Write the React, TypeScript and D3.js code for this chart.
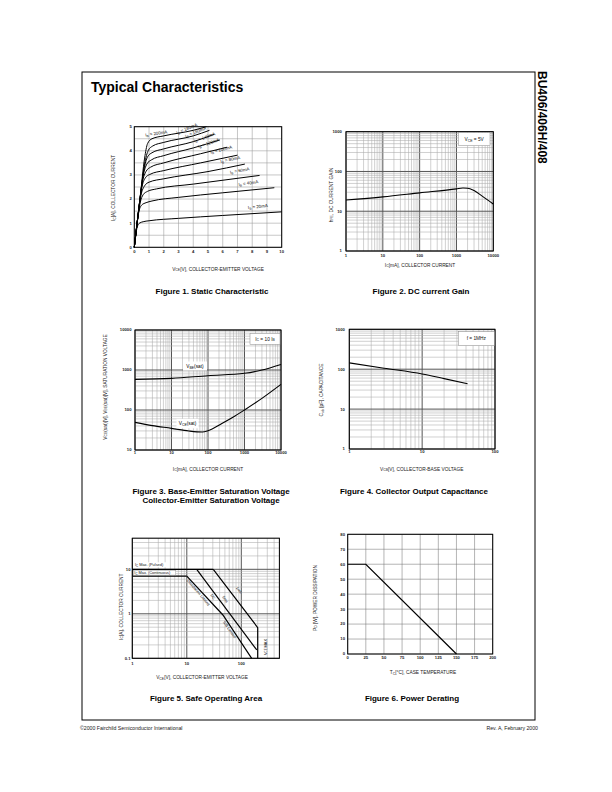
import React from 'react';
import * as d3 from 'd3';

type Pt = [number, number];
const FONT = '"Liberation Sans", Arial, Helvetica, sans-serif';

// ===== Figure 1: Static characteristic (VCE [V], IC [A]) =====
const f1XTicks = [0, 1, 2, 3, 4, 5, 6, 7, 8, 9, 10];
const f1YTicks = [0, 1, 2, 3, 4, 5];
const f1YGrid = [0, 0.5, 1, 1.5, 2, 2.5, 3, 3.5, 4, 4.5, 5];
const ib20: Pt[] = [[0, 0], [0.1, 0.5], [0.2, 0.85], [0.35, 1.0], [0.6, 1.06], [1, 1.1], [3, 1.2], [6, 1.32], [10, 1.47]];
const ib40: Pt[] = [[0, 0], [0.15, 0.78], [0.3, 1.45], [0.5, 1.75], [0.8, 1.85], [1.2, 1.92], [3, 2.07], [6, 2.26], [9.5, 2.47]];
const ib60: Pt[] = [[0, 0], [0.2, 1.05], [0.4, 1.85], [0.6, 2.18], [0.9, 2.32], [1.5, 2.42], [4, 2.62], [8.5, 2.98]];
const ib80: Pt[] = [[0, 0], [0.2, 1.05], [0.45, 2.15], [0.7, 2.55], [1, 2.7], [2, 2.84], [5, 3.14], [7.5, 3.45]];
const ib100: Pt[] = [[0, 0], [0.25, 1.3], [0.5, 2.45], [0.75, 2.88], [1.05, 3.02], [2, 3.18], [4.5, 3.5], [7, 3.82]];
const ib120: Pt[] = [[0, 0], [0.3, 1.56], [0.55, 2.7], [0.8, 3.15], [1.1, 3.32], [2, 3.5], [4.5, 3.88], [6.3, 4.15]];
const ib140: Pt[] = [[0, 0], [0.3, 1.56], [0.6, 2.95], [0.85, 3.45], [1.15, 3.62], [2, 3.8], [4, 4.12], [5.8, 4.45]];
const ib160: Pt[] = [[0, 0], [0.35, 1.82], [0.65, 3.2], [0.9, 3.75], [1.2, 3.92], [2, 4.08], [4, 4.38], [5.4, 4.68]];
const ib180: Pt[] = [[0, 0], [0.4, 2.08], [0.7, 3.45], [0.95, 4.02], [1.25, 4.2], [2, 4.35], [4, 4.62], [5.1, 4.85]];
const ib200: Pt[] = [[0, 0], [0.4, 2.1], [0.7, 3.7], [0.9, 4.3], [1.2, 4.5], [2, 4.62], [4, 4.85], [4.9, 5.0]];
const f1Curves = [ib20, ib40, ib60, ib80, ib100, ib120, ib140, ib160, ib180, ib200];
const f1Names = ['20mA', '40mA', '60mA', '80mA', '100mA', '120mA', '140mA', '160mA', '180mA', '200mA'];
const f1LabelAt: [number, number, number][] = [
  [8.39, 1.63, -6], [7.75, 2.6, -8], [7.17, 3.12, -10], [6.53, 3.58, -12], [5.92, 3.99, -14],
  [5.07, 4.26, -18], [4.8, 4.5, -20], [4.19, 4.72, -22], [3.6, 4.86, -22], [1.5, 4.66, -8],
];

// ===== Figure 2: DC current gain =====
const f2XTicks = [1, 10, 100, 1000, 10000];
const f2YTicks = [1, 10, 100, 1000];
const hfe: Pt[] = [[1, 19.2], [10, 23], [100, 29], [1000, 36.5], [1500, 38.3], [2000, 38], [3000, 33], [5000, 24], [10000, 15.2]];

// ===== Figure 3: Saturation voltages =====
const f3XTicks = [1, 10, 100, 1000, 10000];
const f3YTicks = [10, 100, 1000, 10000];
const vbeSat: Pt[] = [[1, 584], [10, 617], [100, 721], [1000, 826], [3000, 1000], [10000, 1380]];
const vceSat: Pt[] = [[1, 49], [3, 40.6], [10, 34.8], [30, 29.9], [70, 28.2], [100, 30.4], [240, 46], [550, 70.8], [1000, 100], [3000, 195], [10000, 437]];

// ===== Figure 4: Collector output capacitance =====
const f4XTicks = [1, 10, 100];
const f4YTicks = [1, 10, 100, 1000];
const cob: Pt[] = [[1, 144], [3, 106], [10, 76], [20, 58], [42, 43]];

// ===== Figure 5: Safe operating area =====
const f5XTicks = [1, 10, 100];
const f5YTicks = [0.1, 1, 10];
const f5XLabels = ['1', '10', '100'];
const f5YLabels = ['0.1', '1', '10'];
const icPulsed: Pt[] = [[1, 10], [30.6, 10]];
const icCont: Pt[] = [[1, 7], [10, 7]];
const soaDC: Pt[] = [[10, 7], [46, 0.94], [155, 0.1]];
const soa5ms: Pt[] = [[15.2, 10], [192, 0.154]];
const soa1ms: Pt[] = [[30.6, 10], [200, 0.49], [200, 0.1]];

// ===== Figure 6: Power derating =====
const f6XTicks = [0, 25, 50, 75, 100, 125, 150, 175, 200];
const f6YTicks = [0, 10, 20, 30, 40, 50, 60, 70, 80];
const pd: Pt[] = [[0, 60], [25, 60], [150, 0]];

// ---------- helpers ----------
type GV = { v: number; major: boolean };
function logVals(min: number, max: number): GV[] {
  const out: GV[] = [];
  const d0 = Math.floor(Math.log10(min) + 1e-9);
  const d1 = Math.ceil(Math.log10(max) - 1e-9);
  for (let d = d0; d <= d1; d++)
    for (let k = 1; k < 10; k++) {
      const v = k * Math.pow(10, d);
      if (v >= min * 0.9999 && v <= max * 1.0001) out.push({ v, major: k === 1 });
    }
  return out;
}
const linVals = (arr: number[]): GV[] => arr.map((v) => ({ v, major: false }));

function Grid({ sx, sy, xs, ys, minor = '#aaa', major = '#555' }: any) {
  const [x0, x1] = sx.range();
  const [y0, y1] = sy.range();
  return (
    <g>
      {xs.map((t: GV, i: number) => (
        <line key={'gx' + i} x1={sx(t.v)} x2={sx(t.v)} y1={y0} y2={y1} stroke={t.major ? major : minor} strokeWidth={t.major ? 1 : 0.55} />
      ))}
      {ys.map((t: GV, i: number) => (
        <line key={'gy' + i} x1={x0} x2={x1} y1={sy(t.v)} y2={sy(t.v)} stroke={t.major ? major : minor} strokeWidth={t.major ? 1 : 0.55} />
      ))}
      <rect x={x0} y={Math.min(y0, y1)} width={x1 - x0} height={Math.abs(y1 - y0)} fill="none" stroke="#000" strokeWidth={1} />
    </g>
  );
}

function Ticks({ sx, sy, xt, yt, xl, yl, xBase, yEnd }: any) {
  return (
    <g fontSize={4.2} fontWeight="bold" fill="#222">
      {xt.map((t: number, i: number) => (
        <text key={'tx' + i} x={sx(t)} y={xBase} textAnchor="middle">{xl ? xl[i] : String(t)}</text>
      ))}
      {yt.map((t: number, i: number) => (
        <text key={'ty' + i} x={yEnd} y={sy(t) + 1.4} textAnchor="end">{yl ? yl[i] : String(t)}</text>
      ))}
    </g>
  );
}

const Sub = ({ children }: any) => (
  <tspan fontSize="0.72em" dy={0.9}>{children}</tspan>
);
const Up = ({ children }: any) => <tspan dy={-0.9}>{children}</tspan>;

function YTitle({ x, y, children }: any) {
  return (
    <text transform={`translate(${x},${y}) rotate(-90)`} textAnchor="middle" fontSize={4.8} fill="#222">{children}</text>
  );
}
function XTitle({ x, y, children }: any) {
  return (
    <text x={x} y={y} textAnchor="middle" fontSize={4.8} fill="#222">{children}</text>
  );
}
function Caption({ x, y, children }: any) {
  return (
    <text x={x} y={y} textAnchor="middle" fontSize={8} fontWeight="bold" fill="#000">{children}</text>
  );
}
function BoxLabel({ x, y, w, h, children }: any) {
  return (
    <g>
      <rect x={x} y={y} width={w} height={h} fill="#fff" stroke="#888" strokeWidth={0.5} />
      <text x={x + w / 2} y={y + h / 2 + 1.7} textAnchor="middle" fontSize={4.8} fill="#111">{children}</text>
    </g>
  );
}

function mkLine(sx: any, sy: any, curve: any = d3.curveLinear) {
  return d3.line<Pt>().x((d) => sx(d[0])).y((d) => sy(d[1])).curve(curve);
}

export default function App() {
  // Figure 1
  const s1x = d3.scaleLinear().domain([0, 10]).range([134.3, 281.7]);
  const s1y = d3.scaleLinear().domain([0, 5]).range([247.3, 126.7]);
  const l1 = mkLine(s1x, s1y, d3.curveMonotoneX);
  // Figure 2
  const s2x = d3.scaleLog().domain([1, 10000]).range([346, 493.3]);
  const s2y = d3.scaleLog().domain([1, 1000]).range([251, 131.7]);
  const l2 = mkLine(s2x, s2y, d3.curveMonotoneX);
  // Figure 3
  const s3x = d3.scaleLog().domain([1, 10000]).range([135, 281]);
  const s3y = d3.scaleLog().domain([10, 10000]).range([450, 330]);
  const l3 = mkLine(s3x, s3y, d3.curveMonotoneX);
  // Figure 4
  const s4x = d3.scaleLog().domain([1, 100]).range([349.3, 495]);
  const s4y = d3.scaleLog().domain([1, 1000]).range([449, 329.3]);
  const l4 = mkLine(s4x, s4y, d3.curveMonotoneX);
  // Figure 5
  const s5x = d3.scaleLog().domain([1, 500]).range([132.3, 279.4]);
  const s5y = d3.scaleLog().domain([0.1, 50]).range([658.3, 538.2]);
  const l5 = mkLine(s5x, s5y);
  // Figure 6
  const s6x = d3.scaleLinear().domain([0, 200]).range([347.7, 492.7]);
  const s6y = d3.scaleLinear().domain([0, 80]).range([654, 534.3]);
  const l6 = mkLine(s6x, s6y);

  return (
    <svg width={612} height={792} viewBox="0 0 612 792" style={{ position: 'absolute', left: 0, top: 0 }} fontFamily={FONT}>
      <rect x={0} y={0} width={612} height={792} fill="#fff" />
      <rect x={82} y={72} width={453} height={648} fill="none" stroke="#000" strokeWidth={1} />
      <text x={91} y={91.5} fontSize={14} fontWeight="bold">Typical Characteristics</text>
      <text transform="translate(537.5,71) rotate(90)" fontSize={12} fontWeight="bold">BU406/406H/408</text>
      <text x={80} y={730} fontSize={5.2} fill="#222">©2000 Fairchild Semiconductor International</text>
      <text x={538} y={730} fontSize={5.2} fill="#222" textAnchor="end">Rev. A, February 2000</text>

      {/* ---------- Figure 1 ---------- */}
      <Grid sx={s1x} sy={s1y} xs={linVals(f1XTicks)} ys={linVals(f1YGrid)} minor="#999" />
      {f1Curves.map((c, i) => (
        <path key={'c1' + i} d={l1(c) || ''} fill="none" stroke="#000" strokeWidth={1} />
      ))}
      <g fontSize={4.4} fill="#111">
        {f1Names.map((n, i) => {
          const [vx, vy, r] = f1LabelAt[i];
          return (
            <text key={'lb' + i} transform={`translate(${s1x(vx)},${s1y(vy)}) rotate(${r})`} textAnchor="middle">
              I<Sub>B</Sub><Up> = {n}</Up>
            </text>
          );
        })}
      </g>
      <Ticks sx={s1x} sy={s1y} xt={f1XTicks} yt={f1YTicks} xBase={253.2} yEnd={131.8} />
      <YTitle x={115} y={188}>I<Sub>C</Sub><Up>[A], COLLECTOR CURRENT</Up></YTitle>
      <XTitle x={218} y={270.5}>V<Sub>CE</Sub><Up>[V], COLLECTOR-EMITTER VOLTAGE</Up></XTitle>
      <Caption x={212} y={294}>Figure 1. Static Characteristic</Caption>

      {/* ---------- Figure 2 ---------- */}
      <Grid sx={s2x} sy={s2y} xs={logVals(1, 10000)} ys={logVals(1, 1000)} />
      <BoxLabel x={458.3} y={132.7} w={31.7} h={13}>V<Sub>CE</Sub><Up> = 5V</Up></BoxLabel>
      <path d={l2(hfe) || ''} fill="none" stroke="#000" strokeWidth={1.1} />
      <Ticks sx={s2x} sy={s2y} xt={f2XTicks} yt={f2YTicks} xBase={256.8} yEnd={341.8} />
      <YTitle x={332.5} y={195}>h<Sub>FE</Sub><Up>, DC CURRENT GAIN</Up></YTitle>
      <XTitle x={420} y={266.5}>I<Sub>C</Sub><Up>[mA], COLLECTOR CURRENT</Up></XTitle>
      <Caption x={421} y={294}>Figure 2. DC current Gain</Caption>

      {/* ---------- Figure 3 ---------- */}
      <Grid sx={s3x} sy={s3y} xs={logVals(1, 10000)} ys={logVals(10, 10000)} />
      <BoxLabel x={250} y={333.3} w={30} h={11}>I<Sub>C</Sub><Up> = 10 I</Up><Sub>B</Sub></BoxLabel>
      <path d={l3(vbeSat) || ''} fill="none" stroke="#000" strokeWidth={1.1} />
      <path d={l3(vceSat) || ''} fill="none" stroke="#000" strokeWidth={1.1} />
      <rect x={183} y={361.5} width={24} height={9} fill="#fff" />
      <text x={195} y={368} textAnchor="middle" fontSize={4.8}>V<Sub>BE</Sub><Up>(sat)</Up></text>
      <rect x={176.5} y={418.8} width={22} height={9.5} fill="#fff" />
      <text x={187.5} y={425.3} textAnchor="middle" fontSize={4.8}>V<Sub>CE</Sub><Up>(sat)</Up></text>
      <Ticks sx={s3x} sy={s3y} xt={f3XTicks} yt={f3YTicks} xBase={454} yEnd={131.5} />
      <YTitle x={106.5} y={387}>V<Sub>CE</Sub><Up>(sat)[V], V</Up><Sub>BE</Sub><Up>(sat)[V], SATURATION VOLTAGE</Up></YTitle>
      <XTitle x={208} y={470.5}>I<Sub>C</Sub><Up>[mA], COLLECTOR CURRENT</Up></XTitle>
      <Caption x={211} y={494}>Figure 3. Base-Emitter Saturation Voltage</Caption>
      <Caption x={211} y={503}>Collector-Emitter Saturation Voltage</Caption>

      {/* ---------- Figure 4 ---------- */}
      <Grid sx={s4x} sy={s4y} xs={logVals(1, 100)} ys={logVals(1, 1000)} />
      <BoxLabel x={458.3} y={331.7} w={36} h={14}>f = 1MHz</BoxLabel>
      <path d={l4(cob) || ''} fill="none" stroke="#000" strokeWidth={1.1} />
      <Ticks sx={s4x} sy={s4y} xt={f4XTicks} yt={f4YTicks} xBase={453.3} yEnd={344.8} />
      <YTitle x={323} y={390}>C<Sub>ob</Sub><Up> [pF], CAPACITANCE</Up></YTitle>
      <XTitle x={421.7} y={470.5}>V<Sub>CB</Sub><Up>[V], COLLECTOR-BASE  VOLTAGE</Up></XTitle>
      <Caption x={414} y={494}>Figure 4. Collector Output Capacitance</Caption>

      {/* ---------- Figure 5 ---------- */}
      <Grid sx={s5x} sy={s5y} xs={logVals(1, 500)} ys={logVals(0.1, 50)} />
      <path d={l5(icPulsed) || ''} fill="none" stroke="#000" strokeWidth={1.2} />
      <path d={l5(icCont) || ''} fill="none" stroke="#000" strokeWidth={1.2} />
      <path d={l5(soaDC) || ''} fill="none" stroke="#000" strokeWidth={1.2} />
      <path d={l5(soa5ms) || ''} fill="none" stroke="#000" strokeWidth={1.2} />
      <path d={l5(soa1ms) || ''} fill="none" stroke="#000" strokeWidth={1.2} />
      <g fontSize={3.9} fill="#111">
        <rect x={134} y={562.3} width={32} height={5} fill="#fff" />
        <text x={135} y={566.3}>I<Sub>C</Sub><Up> Max. (Pulsed)</Up></text>
        <rect x={133.3} y={570.3} width={42.5} height={4.8} fill="#fff" stroke="#888" strokeWidth={0.4} />
        <text x={134.3} y={574}>I<Sub>C</Sub><Up> Max. (Continuous)</Up></text>
        <text transform="translate(197.5,593.3) rotate(50)" textAnchor="middle">Dissipation Limited</text>
        <text transform="translate(228.5,630.5) rotate(55)" textAnchor="middle">S/B Limited</text>
        <text transform="translate(211.8,597.5) rotate(55)" textAnchor="middle">DC</text>
        <text transform="translate(224,600) rotate(55)" textAnchor="middle">5ms</text>
        <text transform="translate(238,591) rotate(52)" textAnchor="middle">1ms</text>
        <text transform="translate(266.5,647) rotate(-90)" textAnchor="middle">V<Sub>CE</Sub><Up> MAX</Up></text>
      </g>
      <Ticks sx={s5x} sy={s5y} xt={f5XTicks} yt={f5YTicks} xl={f5XLabels} yl={f5YLabels} xBase={664.8} yEnd={130.5} />
      <YTitle x={122.5} y={606.7}>I<Sub>C</Sub><Up>[A], COLLECTOR CURRENT</Up></YTitle>
      <XTitle x={202} y={679.2}>V<Sub>CE</Sub><Up>[V], COLLECTOR-EMITTER VOLTAGE</Up></XTitle>
      <Caption x={206} y={701}>Figure 5. Safe Operating Area</Caption>

      {/* ---------- Figure 6 ---------- */}
      <Grid sx={s6x} sy={s6y} xs={linVals(f6XTicks)} ys={linVals(f6YTicks)} minor="#777" />
      <path d={l6(pd) || ''} fill="none" stroke="#000" strokeWidth={1.2} />
      <Ticks sx={s6x} sy={s6y} xt={f6XTicks} yt={f6YTicks} xBase={658.8} yEnd={345} />
      <YTitle x={316.5} y={598}>P<Sub>D</Sub><Up> [W], POWER DISSIPATION</Up></YTitle>
      <XTitle x={423} y={673.8}>T<Sub>C</Sub><Up>[°C], CASE TEMPERATURE</Up></XTitle>
      <Caption x={412} y={701}>Figure 6. Power Derating</Caption>
    </svg>
  );
}
